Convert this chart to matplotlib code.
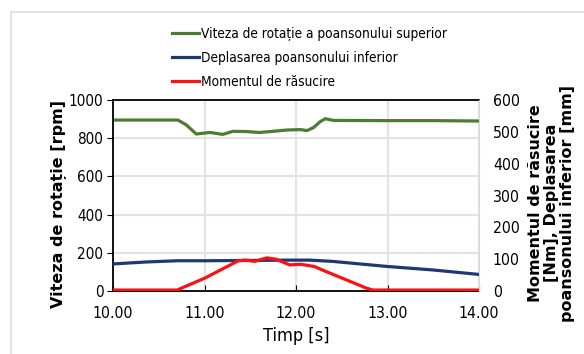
import matplotlib
matplotlib.use("Agg")
import matplotlib.pyplot as plt
from matplotlib.patches import Rectangle
from matplotlib import font_manager as fm

# Data
t_speed = [10.0, 10.5, 10.71, 10.8, 10.91, 11.06, 11.2, 11.31, 11.45, 11.6, 11.75, 11.9, 12.05, 12.12, 12.19, 12.26, 12.32, 12.41, 13.0, 13.5, 14.0]
speed = [895, 895, 895, 870, 822, 830, 820, 836, 835, 830, 836, 843, 845, 840, 855, 885, 902, 893, 892, 892, 890]

t_disp = [10.0, 10.35, 10.7, 11.0, 11.5, 11.9, 12.15, 12.4, 12.7, 13.0, 13.5, 14.0]
disp = [85, 91, 95, 95, 96, 97, 97, 93, 85, 77, 66, 52]

t_torque = [10.0, 10.5, 10.7, 11.0, 11.37, 11.45, 11.55, 11.68, 11.78, 11.93, 12.05, 12.2, 12.33, 12.55, 12.77, 12.84, 13.2, 14.0]
torque = [3, 3, 3, 40, 95, 97, 93, 104, 100, 82, 84, 77, 61, 35, 9, 3, 3, 3]

x_ticks = [10.0, 11.0, 12.0, 13.0, 14.0]
left_ticks = [0, 200, 400, 600, 800, 1000]
right_ticks = [0, 100, 200, 300, 400, 500, 600]

labels = ["Viteza de rotație a poansonului superior",
          "Deplasarea poansonului inferior",
          "Momentul de răsucire"]
colors = ["#4e7b30", "#1f3872", "#ff1010"]

# find a narrow / condensed font if one is installed
narrow_path = None
for f in fm.fontManager.ttflist:
    n = (f.name + " " + str(f.fname)).lower()
    if ("narrow" in n or "condensed" in n) and f.style == "normal" and f.weight in (400, "normal", "regular"):
        if "bold" in f.fname.lower() or "light" in f.fname.lower() or "italic" in f.fname.lower():
            continue
        narrow_path = f.fname
        break


def tfont(size):
    if narrow_path:
        return fm.FontProperties(fname=narrow_path, size=size)
    return fm.FontProperties(family=["Liberation Sans", "DejaVu Sans"], size=size * 0.9)


fig = plt.figure(figsize=(5.84, 3.54), dpi=100)
fig.patches.append(Rectangle((11/584, -0.1), 1.2, 1 - 12/354 + 0.1, transform=fig.transFigure,
                             fill=False, edgecolor="#dddddd", linewidth=1.2))

ax = fig.add_axes([113/584, 1 - 291/354, 366/584, 191/354])
ax2 = ax.twinx()

l1, = ax.plot(t_speed, speed, color=colors[0], lw=2.3, label=labels[0])
l2, = ax2.plot(t_disp, disp, color=colors[1], lw=2.3, label=labels[1])
l3, = ax2.plot(t_torque, torque, color=colors[2], lw=2.3, label=labels[2])

ax.set_xlim(10, 14)
ax.set_ylim(0, 1000)
ax2.set_ylim(0, 600)
ax.set_xticks(x_ticks)
ax.set_xticklabels([f"{v:.2f}" for v in x_ticks], fontproperties=tfont(11.3))
ax.set_yticks(left_ticks)
ax.set_yticklabels([str(v) for v in left_ticks], fontproperties=tfont(11))
ax2.set_yticks(right_ticks)
ax2.set_yticklabels([str(v) for v in right_ticks], fontproperties=tfont(11.3))

ax.grid(True, color="#e3e3e3", lw=1.5)
ax.set_axisbelow(True)
ax.tick_params(axis="x", direction="in", length=4, pad=11, color="black")
ax.tick_params(axis="y", direction="out", length=4, pad=3)
ax2.tick_params(axis="y", length=0, pad=10)

for s in ["top", "bottom", "left"]:
    ax.spines[s].set_color("black")
    ax.spines[s].set_linewidth(1.3)
ax.spines["right"].set_visible(False)
for s in ["top", "bottom", "left"]:
    ax2.spines[s].set_visible(False)
ax2.spines["right"].set_color("#d9d9d9")

ax.set_xlabel("Timp [s]", fontproperties=tfont(13), labelpad=4)
ax.set_ylabel("Viteza de rotație [rpm]", fontsize=11.5, fontweight="semibold")
ax2.set_ylabel("Momentul de răsucire\n[Nm], Deplasarea\npoansonului inferior [mm]",
               fontsize=11.5, fontweight="semibold", rotation=90, linespacing=1.08)
ax.yaxis.set_label_coords(-0.125, 0.455)
ax2.yaxis.set_label_coords(1.134, 0.46)

leg = fig.legend(handles=[l1, l2, l3], loc="upper left", bbox_to_anchor=(165/584, 1 - 20/354),
                 frameon=False, prop=tfont(9.8),
                 handlelength=2.0, handletextpad=0.15, labelspacing=0.72, borderpad=0)

fig.savefig("out.png", dpi=100)
